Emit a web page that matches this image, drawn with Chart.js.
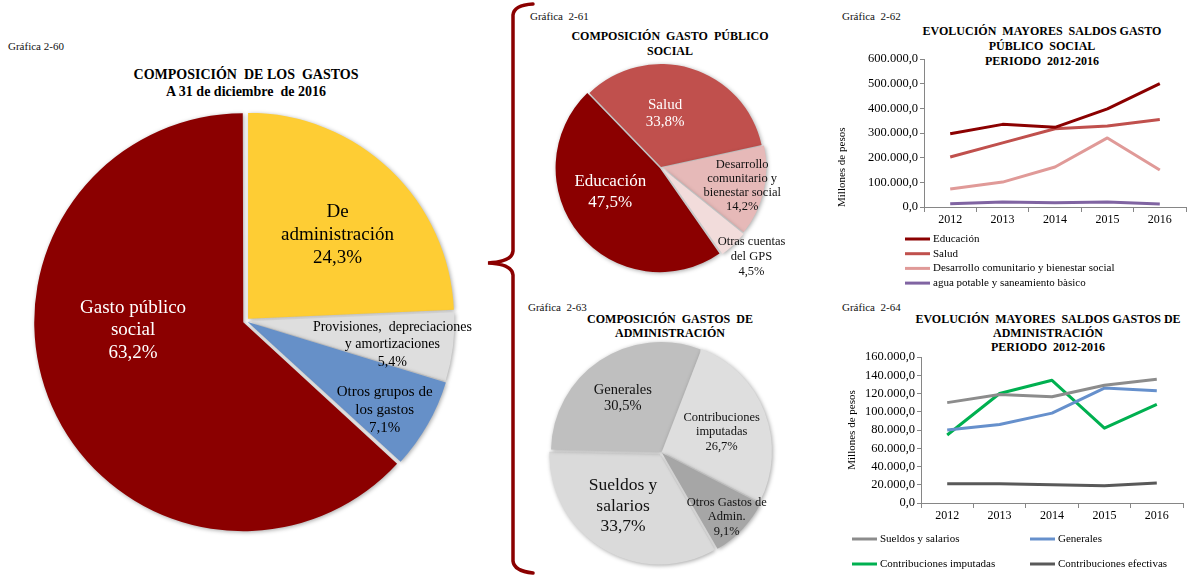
<!DOCTYPE html>
<html lang="es">
<head>
<meta charset="utf-8">
<title>Composición de los gastos 2016</title>
<script src="https://cdn.jsdelivr.net/npm/chart.js@4.4.1/dist/chart.umd.min.js"></script>
<style>
  body { margin: 0; background: #fff; }
  #hoja { position: relative; width: 1191px; height: 575px; overflow: hidden; background: #fff;
          font-family: 'Liberation Serif', 'Times New Roman', serif; color: #000; }
  #hoja canvas { position: absolute; }
  .num { position: absolute; font-size: 11px; line-height: 13px; white-space: pre; color: #111; }
  .tit { position: absolute; font-weight: bold; text-align: center; white-space: pre; }
  .llave { position: absolute; left: 0; top: 0; }
</style>
</head>
<body>
<div id="hoja">
  <svg class="llave" width="1191" height="575">
    <path d="M 533 4 Q 514 5 513 15 L 513 251 Q 512 262 488 263 Q 512 264 513 275 L 513 561 Q 514 571 533 573"
          fill="none" stroke="#8b0000" stroke-width="3.5" stroke-linecap="round"/>
  </svg>

  <div class="num" style="left:8px;top:40px">Gráfica 2-60</div>
  <div class="tit" style="left:66px;width:360px;top:66px;font-size:14px;line-height:17px">COMPOSICIÓN  DE LOS  GASTOS<br>A 31 de diciembre  de 2016</div>

  <div class="num" style="left:530px;top:10px">Gráfica  2-61</div>
  <div class="tit" style="left:560px;width:220px;top:29px;font-size:12px;line-height:15px">COMPOSICIÓN  GASTO  PÚBLICO<br>SOCIAL</div>

  <div class="num" style="left:528px;top:301px">Gráfica  2-63</div>
  <div class="tit" style="left:560px;width:220px;top:312px;font-size:12px;line-height:14px">COMPOSICIÓN  GASTOS  DE<br>ADMINISTRACIÓN</div>

  <div class="num" style="left:842px;top:10px">Gráfica  2-62</div>
  <div class="tit" style="left:892px;width:300px;top:24px;font-size:12px;line-height:15px">EVOLUCIÓN  MAYORES  SALDOS GASTO<br>PÚBLICO  SOCIAL<br>PERIODO  2012-2016</div>

  <div class="num" style="left:842px;top:301px">Gráfica  2-64</div>
  <div class="tit" style="left:898px;width:300px;top:312px;font-size:12px;line-height:14px">EVOLUCIÓN  MAYORES  SALDOS GASTOS DE<br>ADMINISTRACIÓN<br>PERIODO  2012-2016</div>

  <canvas id="pieGastos" width="492" height="440" style="left:0;top:101px"></canvas>
  <canvas id="pieSocial" width="262" height="240" style="left:530px;top:47px"></canvas>
  <canvas id="pieAdmin" width="262" height="244" style="left:530px;top:330px"></canvas>
  <canvas id="lineaSocial" width="361" height="300" style="left:830px;top:0"></canvas>
  <canvas id="lineaAdmin" width="361" height="280" style="left:830px;top:295px"></canvas>
</div>

<script>
// Gráfica 2-60: composición de los gastos (%)
const gastosLabels = ['De\nadministración', 'Provisiones,  depreciaciones\ny amortizaciones', 'Otros grupos de\nlos gastos', 'Gasto público\nsocial'];
const gastosPct = [24.3, 5.4, 7.1, 63.2];

// Gráfica 2-61: composición gasto público social (%)
const socialLabels = ['Educación', 'Salud', 'Desarrollo\ncomunitario y\nbienestar social', 'Otras cuentas\ndel GPS'];
const socialPct = [47.5, 33.8, 14.2, 4.5];

// Gráfica 2-63: composición gastos de administración (%)
const adminLabels = ['Sueldos y\nsalarios', 'Generales', 'Contribuciones\nimputadas', 'Otros Gastos de\nAdmin.'];
const adminPct = [33.7, 30.5, 26.7, 9.1];

// Gráficas 2-62 y 2-64: millones de pesos por año
const years = ['2012', '2013', '2014', '2015', '2016'];
const educacion = [297000, 335000, 323000, 398000, 500000];
const salud = [203000, 260000, 317000, 328000, 355000];
const desarrollo = [73000, 101000, 162000, 280000, 150000];
const aguaPotable = [13000, 20000, 17000, 20000, 12000];

const sueldos = [110000, 119000, 116500, 129000, 135500];
const generales = [80000, 86000, 98500, 126000, 123000];
const contribImputadas = [74500, 120000, 134500, 82000, 108000];
const contribEfectivas = [21000, 21000, 20000, 19000, 22000];

const serif = "'Liberation Serif', 'Times New Roman', serif";
Chart.defaults.font.family = serif;
Chart.defaults.color = '#000';

function pct(v) {
    return v.toFixed(1).replace('.', ',') + '%';
}
function miles(v) {
    let partes = v.toFixed(1).split('.');
    return partes[0].replace(/\B(?=(\d{3})+(?!\d))/g, '.') + ',' + partes[1];
}

// soft shadow under the slices
const sombra = {
    id: 'sombra',
    beforeDatasetsDraw(chart) {
        let ctx = chart.ctx;
        ctx.save();
        ctx.shadowColor = 'rgba(0,0,0,0.35)';
        ctx.shadowBlur = 4;
        ctx.shadowOffsetX = 1;
        ctx.shadowOffsetY = 1;
    },
    afterDatasetsDraw(chart) {
        chart.ctx.restore();
    }
};

// name + percentage inside / next to each slice
const rotulos = {
    id: 'rotulos',
    afterDatasetsDraw(chart, args, opts) {
        let ctx = chart.ctx;
        let meta = chart.getDatasetMeta(0);
        let valores = chart.data.datasets[0].data;
        meta.data.forEach(function (arc, i) {
            let p = opts.sitio[i];
            let ang = (arc.startAngle + arc.endAngle) / 2 + p.giro * Math.PI / 180;
            let r = arc.outerRadius * p.dist;
            let x = arc.x + Math.cos(ang) * r;
            let y = arc.y + Math.sin(ang) * r;
            let lineas = chart.data.labels[i].split('\n').concat(pct(valores[i]));
            let lh = p.size * (p.lh || 1.18);
            ctx.save();
            ctx.font = p.size + 'px ' + serif;
            ctx.fillStyle = p.color;
            ctx.textAlign = 'center';
            ctx.textBaseline = 'middle';
            lineas.forEach(function (t, k) {
                ctx.fillText(t, x, y + (k - (lineas.length - 1) / 2) * lh);
            });
            ctx.restore();
        });
    }
};

// legend drawn as a grid under the plot
const leyenda = {
    id: 'leyenda',
    afterDraw(chart, args, o) {
        let ctx = chart.ctx;
        chart.data.datasets.forEach(function (ds, i) {
            let col = i % o.cols;
            let fila = Math.floor(i / o.cols);
            let x = o.x + col * o.colWidth;
            let y = o.y + fila * o.rowHeight;
            ctx.save();
            ctx.strokeStyle = ds.borderColor;
            ctx.lineWidth = 3;
            ctx.beginPath();
            ctx.moveTo(x, y);
            ctx.lineTo(x + 25, y);
            ctx.stroke();
            ctx.font = '11px ' + serif;
            ctx.fillStyle = '#000';
            ctx.textBaseline = 'middle';
            ctx.fillText(ds.label, x + 28, y);
            ctx.restore();
        });
    }
};

function torta(id, labels, data, colors, offsets, radio, giro, sitio) {
    return new Chart(document.getElementById(id), {
        type: 'pie',
        data: {
            labels: labels,
            datasets: [{
                data: data,
                backgroundColor: colors,
                borderWidth: 0,
                offset: offsets,
                hoverOffset: 0,
                radius: radio
            }]
        },
        options: {
            responsive: false,
            animation: false,
            devicePixelRatio: 1,
            rotation: giro,
            layout: { padding: 0 },
            events: [],
            plugins: {
                legend: { display: false },
                tooltip: { enabled: false },
                rotulos: { sitio: sitio }
            }
        },
        plugins: [sombra, rotulos]
    });
}

torta('pieGastos', gastosLabels, gastosPct,
    ['#fecd34', '#dedede', '#6690c8', '#8b0000'],
    [12, 6, 8, 12], 206, 0,
    [
        { giro: 3, dist: 0.61, size: 19, color: '#000', lh: 1.2 },
        { giro: 2, dist: 0.72, size: 14, color: '#000', lh: 1.25 },
        { giro: 3, dist: 0.80, size: 15, color: '#000', lh: 1.17 },
        { giro: 19, dist: 0.55, size: 19, color: '#fff', lh: 1.2 }
    ]);

torta('pieSocial', socialLabels, socialPct,
    ['#8b0000', '#c0504d', '#e6b9b8', '#f2dcdb'],
    [6, 0, 8, 8], 103, 145,
    [
        { giro: 13, dist: 0.55, size: 17, color: '#fff', lh: 1.24 },
        { giro: -12.5, dist: 0.52, size: 15, color: '#fff', lh: 1.13 },
        { giro: 0, dist: 0.81, size: 12.5, color: '#111', lh: 1.12 },
        { giro: -2, dist: 1.24, size: 12.5, color: '#111', lh: 1.2 }
    ]);

torta('pieAdmin', adminLabels, adminPct,
    ['#dadada', '#bfbfbf', '#dedede', '#a6a6a6'],
    [10, 0, 4, 6], 110, 150,
    [
        { giro: 4.4, dist: 0.60, size: 17.5, color: '#111', lh: 1.15 },
        { giro: -1.6, dist: 0.60, size: 14.5, color: '#111', lh: 1.17 },
        { giro: 2.6, dist: 0.58, size: 12.5, color: '#111', lh: 1.16 },
        { giro: 1, dist: 0.84, size: 12.5, color: '#111', lh: 1.16 }
    ]);

function serie(label, data, color) {
    return {
        label: label,
        data: data,
        borderColor: color,
        backgroundColor: color,
        borderWidth: 3,
        pointRadius: 0,
        tension: 0,
        fill: false,
        borderJoinStyle: 'round'
    };
}

function lineas(id, datasets, maxY, paso, ancho, pad, tituloY, leyendaOpts) {
    return new Chart(document.getElementById(id), {
        type: 'line',
        data: { labels: years, datasets: datasets },
        options: {
            responsive: false,
            animation: false,
            devicePixelRatio: 1,
            events: [],
            layout: { padding: pad },
            scales: {
                x: {
                    offset: true,
                    grid: { drawOnChartArea: false, offset: true, tickLength: 5, color: '#868686' },
                    border: { color: '#868686' },
                    ticks: { font: { size: 12 }, padding: 1, color: '#000' },
                    afterFit(s) { s.height = 24; }
                },
                y: {
                    min: 0,
                    max: maxY,
                    grid: { drawOnChartArea: false, tickLength: 4, color: '#868686' },
                    border: { color: '#868686' },
                    ticks: { stepSize: paso, font: { size: 12.5 }, padding: 2, color: '#000',
                             callback: function (v) { return miles(v); } },
                    title: tituloY,
                    afterFit(s) { s.width = ancho; }
                }
            },
            plugins: {
                legend: { display: false },
                tooltip: { enabled: false },
                leyenda: leyendaOpts
            }
        },
        plugins: [leyenda]
    });
}

lineas('lineaSocial', [
        serie('Educación', educacion, '#8b0000'),
        serie('Salud', salud, '#c0504d'),
        serie('Desarrollo comunitario y bienestar social', desarrollo, '#e09a98'),
        serie('agua potable y saneamiento bàsico', aguaPotable, '#8064a2')
    ], 600000, 100000, 94,
    { left: 0, top: 59, right: 5, bottom: 69 },
    { display: true, text: 'Millones de pesos', align: 'start', font: { size: 11 }, padding: { top: 6, bottom: 0 } },
    { x: 75, y: 239, cols: 1, colWidth: 0, rowHeight: 14.7 });

lineas('lineaAdmin', [
        serie('Sueldos y salarios', sueldos, '#8c8c8c'),
        serie('Generales', generales, '#6690cc'),
        serie('Contribuciones imputadas', contribImputadas, '#00b050'),
        serie('Contribuciones efectivas', contribEfectivas, '#595959')
    ], 160000, 20000, 91,
    { left: 0, top: 62, right: 8, bottom: 48 },
    { display: true, text: 'Millones de pesos', font: { size: 11 }, padding: { top: 16, bottom: 0 } },
    { x: 22, y: 244, cols: 2, colWidth: 178, rowHeight: 25 });
</script>
</body>
</html>
